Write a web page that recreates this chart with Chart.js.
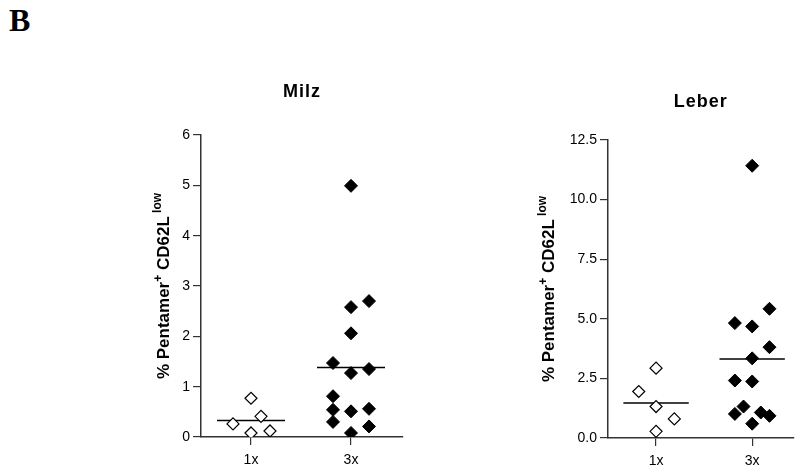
<!DOCTYPE html>
<html>
<head>
<meta charset="utf-8">
<script src="https://cdn.jsdelivr.net/npm/chart.js@4"></script>
<style>
  body { margin: 0; background: #fff; width: 801px; height: 473px; overflow: hidden; position: relative; }
  .panel { position: absolute; top: 0; }
  #letter { position: absolute; left: 9px; top: 2px; font: bold 32px "Liberation Serif", "Times New Roman", serif; color: #000; }
</style>
</head>
<body>
<div id="letter">B</div>
<div class="panel" style="left:0px"><canvas id="milz" width="420" height="473"></canvas></div>
<div class="panel" style="left:420px"><canvas id="leber" width="381" height="473"></canvas></div>
<script>
// groups on the x axis
const categories = ["1x", "3x"];

// Milz (spleen), % Pentamer+ CD62L low
const milz1x = [0.77, 0.26, 0.41, 0.08, 0.12];
const milz1xJitter = [0, -0.18, 0.10, 0, 0.19];
const milz3x = [4.99, 2.58, 2.70, 2.06, 1.47, 1.27, 1.35, 0.81, 0.54, 0.51, 0.56, 0.30, 0.21, 0.08];
const milz3xJitter = [0, 0, 0.18, 0, -0.18, 0, 0.18, -0.18, -0.18, 0, 0.18, -0.18, 0.18, 0];
const milzMeans = [0.33, 1.38];
const milzTicks = [0, 1, 2, 3, 4, 5, 6];

// Leber (liver)
const leber1x = [2.93, 1.95, 1.32, 0.80, 0.28];
const leber1xJitter = [0, -0.18, 0, 0.19, 0];
const leber3x = [11.42, 5.42, 4.82, 4.68, 3.81, 3.34, 2.41, 2.37, 1.32, 1.01, 1.07, 0.93, 0.60];
const leber3xJitter = [0, 0.18, -0.18, 0, 0.18, 0, -0.18, 0, -0.09, -0.18, 0.09, 0.18, 0];
const leberMeans = [1.47, 3.31];
const leberTicks = [0, 2.5, 5, 7.5, 10, 12.5];

const FONT = "'Liberation Sans', Arial, sans-serif";
const AXIS = "#333";
const HALF = 0.34; // half width of mean bar

const toPts = (vals, jit, cat) => vals.map((v, i) => ({ x: cat + jit[i], y: v }));

// title + y label with superscripts
const labelPlugin = {
  id: "labels",
  afterDraw(chart, args, opts) {
    const ctx = chart.ctx;
    const area = chart.chartArea;
    ctx.save();
    ctx.fillStyle = "#000";
    ctx.font = "bold 18px " + FONT;
    ctx.letterSpacing = "1px";
    ctx.textAlign = "center";
    ctx.textBaseline = "middle";
    ctx.fillText(opts.title, (area.left + area.right) / 2, opts.titleY);
    ctx.letterSpacing = "0px";

    const parts = [
      { t: "% Pentamer", s: 17, up: 0 },
      { t: "+", s: 12, up: 7 },
      { t: " CD62L", s: 17, up: 0 },
      { t: " low", s: 12, up: 8 }
    ];
    let total = 0;
    parts.forEach(p => { ctx.font = "bold " + p.s + "px " + FONT; p.w = ctx.measureText(p.t).width; total += p.w; });
    ctx.translate(opts.labelX, (area.top + area.bottom) / 2);
    ctx.rotate(-Math.PI / 2);
    ctx.textAlign = "left";
    ctx.textBaseline = "alphabetic";
    let x = -total / 2;
    parts.forEach(p => {
      ctx.font = "bold " + p.s + "px " + FONT;
      ctx.fillText(p.t, x, 6 - p.up);
      x += p.w;
    });
    ctx.restore();
  }
};

function makeChart(id, g1, g3, means, ticks, yMax, xMax, pad, labelOpts, fmt) {
  const meanSet = (cat, m) => ({
    type: "line",
    data: [{ x: cat - HALF, y: m }, { x: cat + HALF, y: m }],
    borderColor: "#000",
    borderWidth: 1.5,
    pointRadius: 0,
    fill: false
  });
  return new Chart(document.getElementById(id), {
    type: "scatter",
    data: {
      datasets: [
        { data: g1, pointStyle: "rectRot", pointRadius: 6, backgroundColor: "#fff", borderColor: "#000", borderWidth: 1.2 },
        { data: g3, pointStyle: "rectRot", pointRadius: 6.5, backgroundColor: "#000", borderColor: "#000", borderWidth: 1 },
        meanSet(1, means[0]),
        meanSet(2, means[1])
      ]
    },
    options: {
      responsive: false,
      devicePixelRatio: 1,
      animation: false,
      layout: { padding: pad },
      plugins: { legend: { display: false }, tooltip: { enabled: false }, labels: labelOpts },
      scales: {
        x: {
          type: "linear",
          min: 0.5,
          max: xMax,
          afterBuildTicks: ax => { ax.ticks = [{ value: 1 }, { value: 2 }]; },
          afterFit: ax => { ax.height = 35; },
          ticks: { callback: v => categories[v - 1], color: "#000", font: { family: FONT, size: 14 }, padding: 7, maxRotation: 0 },
          grid: { drawOnChartArea: false, tickLength: 8, color: AXIS, lineWidth: 1.2 },
          border: { color: AXIS, width: 1.5 }
        },
        y: {
          min: 0,
          max: yMax,
          afterBuildTicks: ax => { ax.ticks = ticks.map(v => ({ value: v })); },
          afterFit: ax => { ax.width = 40; },
          ticks: { callback: fmt, color: "#000", font: { family: FONT, size: 14 }, padding: 3 },
          grid: { drawOnChartArea: false, tickLength: 8, color: AXIS, lineWidth: 1.2 },
          border: { color: AXIS, width: 1.5 }
        }
      }
    },
    plugins: [labelPlugin]
  });
}

makeChart("milz",
  toPts(milz1x, milz1xJitter, 1), toPts(milz3x, milz3xJitter, 2), milzMeans, milzTicks, 6, 2.52,
  { left: 161, right: 17, top: 135, bottom: 1 },
  { title: "Milz", titleY: 92, labelX: 163 },
  v => String(v));

makeChart("leber",
  toPts(leber1x, leber1xJitter, 1), toPts(leber3x, leber3xJitter, 2), leberMeans, leberTicks, 12.5, 2.43,
  { left: 148, right: 0, top: 140, bottom: 0 },
  { title: "Leber", titleY: 102, labelX: 128 },
  v => v.toFixed(1));
</script>
</body>
</html>
